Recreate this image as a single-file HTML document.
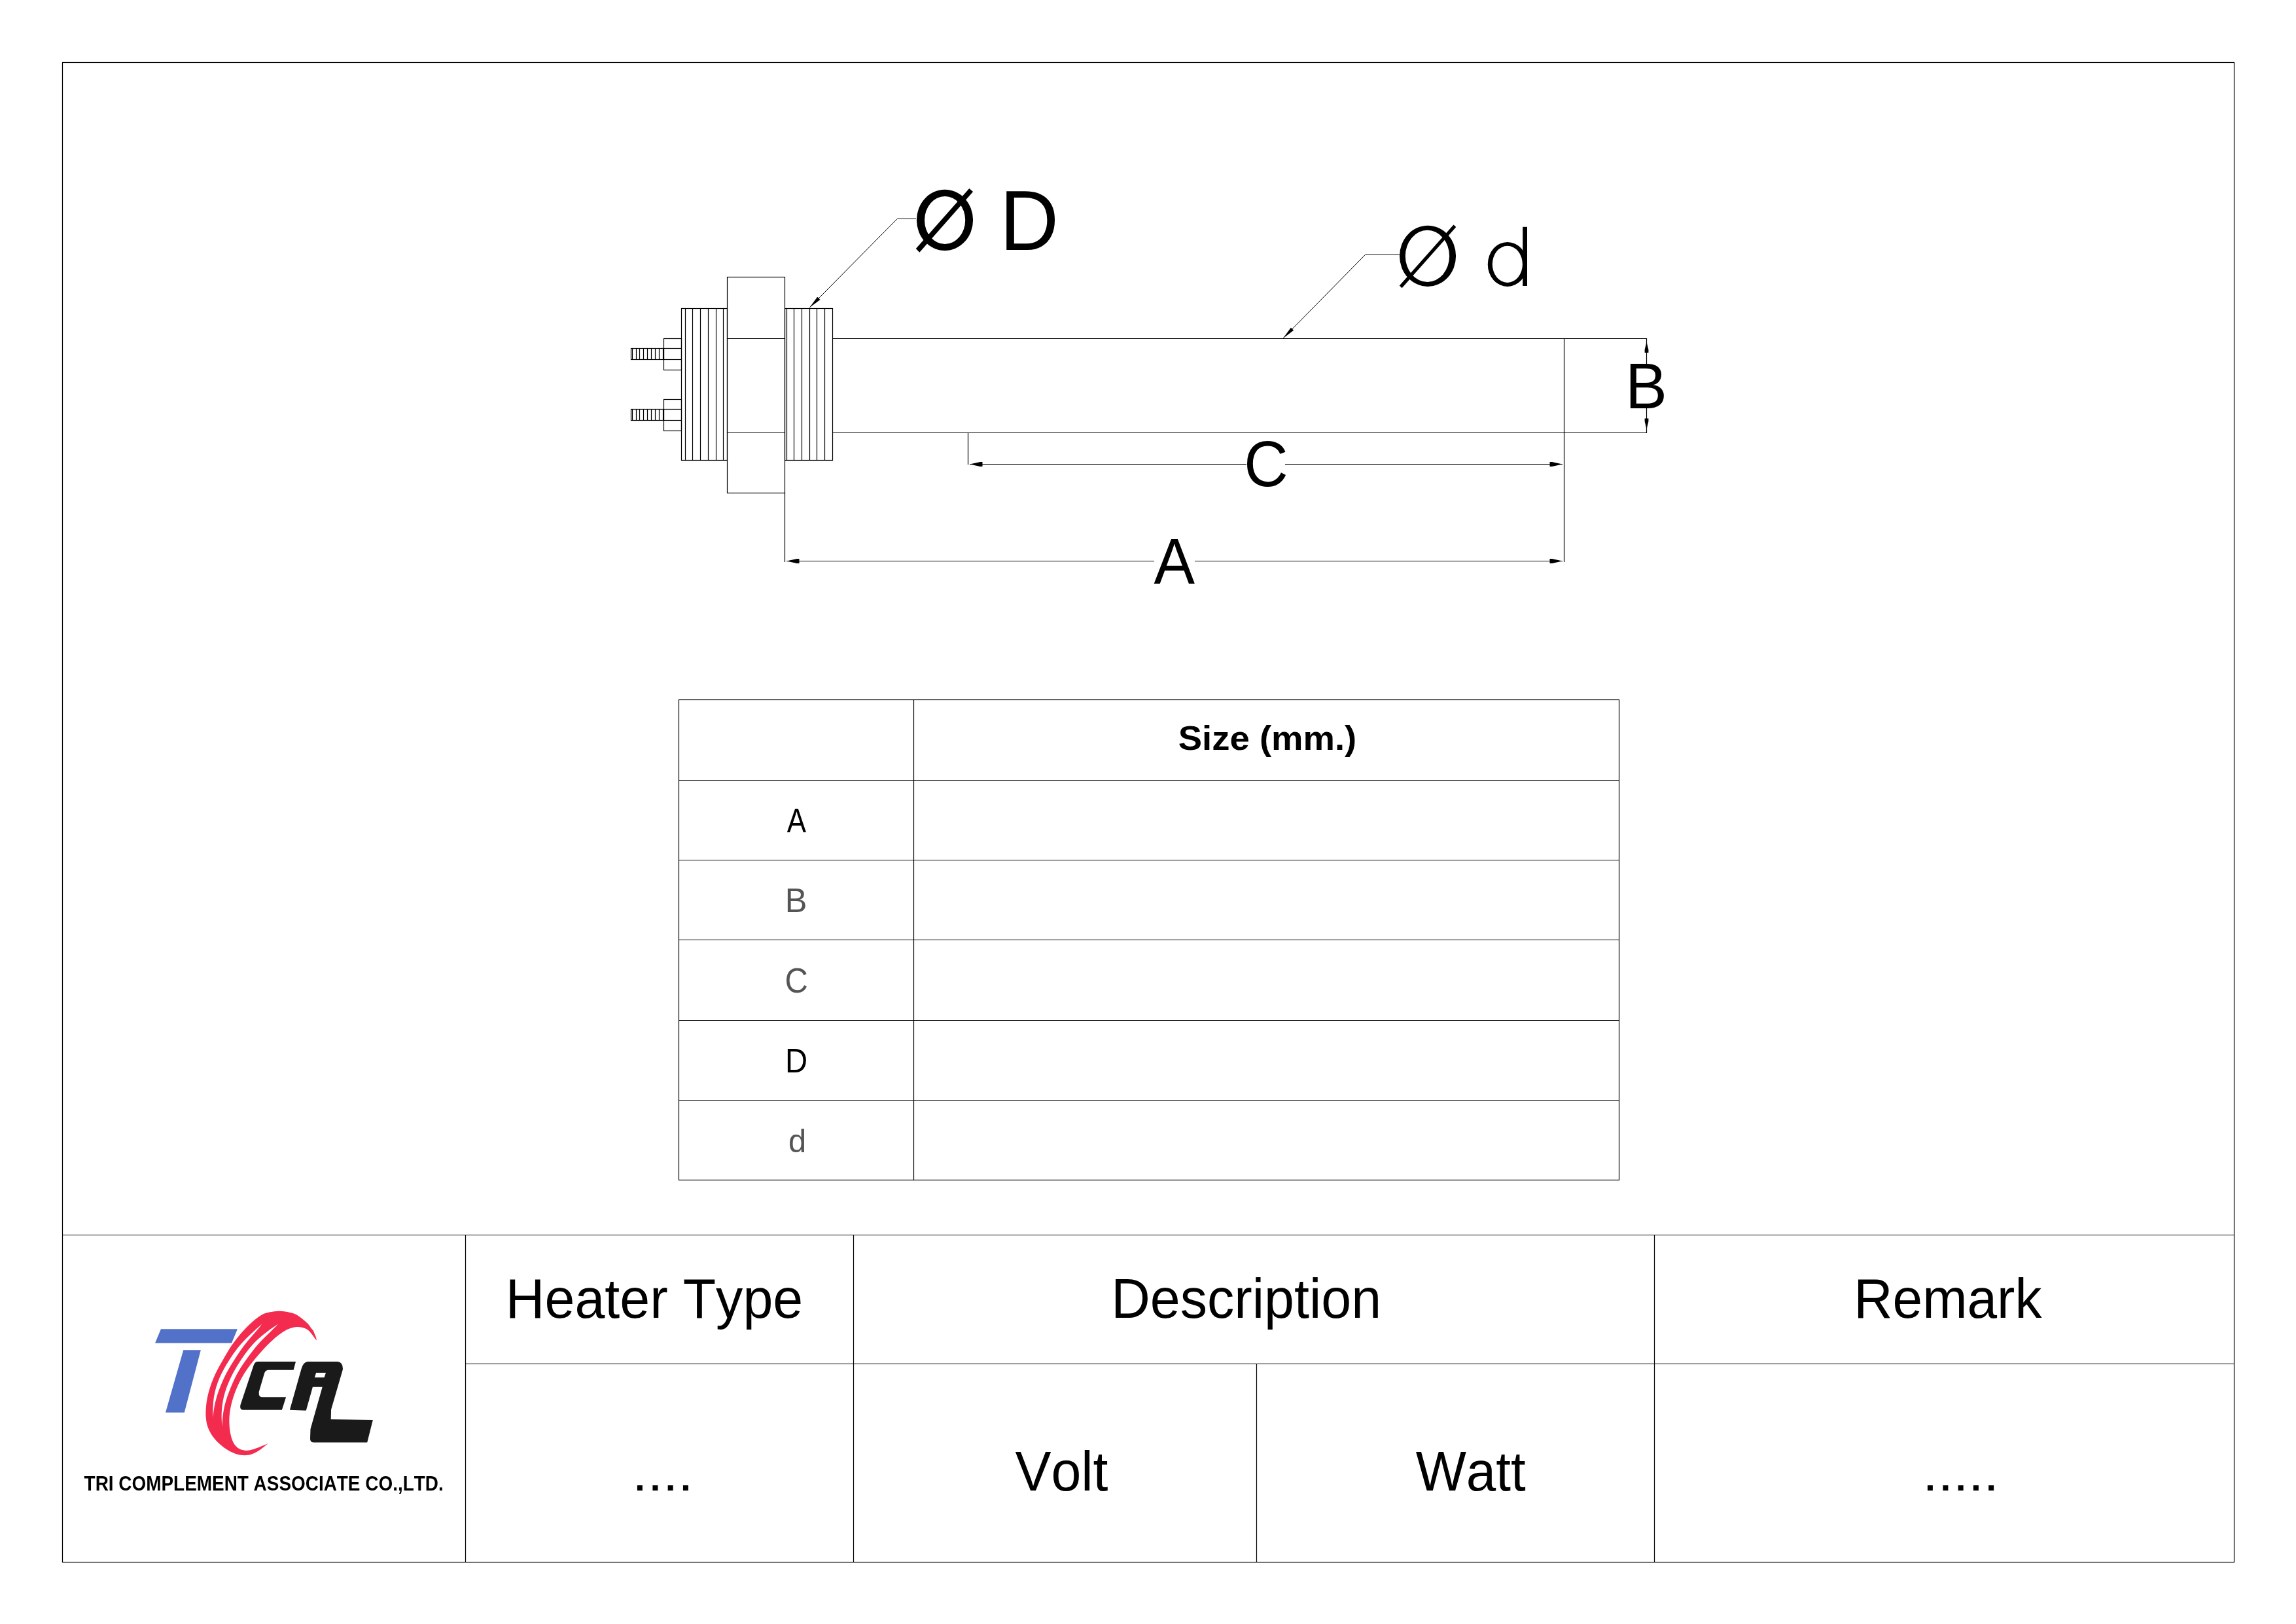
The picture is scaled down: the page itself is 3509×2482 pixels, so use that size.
<!DOCTYPE html>
<html><head><meta charset="utf-8"><style>
html,body{margin:0;padding:0;background:#fff;overflow:hidden;width:3509px;height:2482px;}
svg{display:block;}
text{font-family:"Liberation Sans",sans-serif;font-kerning:none;} svg{will-change:transform;}
</style></head><body>
<svg width="3509" height="2482" viewBox="0 0 3509 2482">
<rect width="3509" height="2482" fill="#fff"/>
<rect x="95.5" y="95.5" width="3319" height="2292" fill="none" stroke="#000" stroke-width="1.2"/>
<line x1="95" y1="1887.5" x2="3415" y2="1887.5" stroke="#000" stroke-width="1.2"/>
<line x1="711" y1="2084.5" x2="3415" y2="2084.5" stroke="#000" stroke-width="1.2"/>
<line x1="711.5" y1="1887" x2="711.5" y2="2388" stroke="#000" stroke-width="1.2"/>
<line x1="1304.5" y1="1887" x2="1304.5" y2="2388" stroke="#000" stroke-width="1.2"/>
<line x1="1920.5" y1="2084" x2="1920.5" y2="2388" stroke="#000" stroke-width="1.2"/>
<line x1="2528.5" y1="1887" x2="2528.5" y2="2388" stroke="#000" stroke-width="1.2"/>
<rect x="1037.5" y="1069.5" width="1437" height="734" fill="none" stroke="#000" stroke-width="1.2"/>
<line x1="1396.5" y1="1069" x2="1396.5" y2="1804" stroke="#000" stroke-width="1.2"/>
<line x1="1037" y1="1192.5" x2="2475" y2="1192.5" stroke="#000" stroke-width="1.2"/>
<line x1="1037" y1="1314.5" x2="2475" y2="1314.5" stroke="#000" stroke-width="1.2"/>
<line x1="1037" y1="1436.5" x2="2475" y2="1436.5" stroke="#000" stroke-width="1.2"/>
<line x1="1037" y1="1559.5" x2="2475" y2="1559.5" stroke="#000" stroke-width="1.2"/>
<line x1="1037" y1="1681.5" x2="2475" y2="1681.5" stroke="#000" stroke-width="1.2"/>
<text transform="translate(1800.73,1145.70) scale(1.0421,1)" font-size="52.30" font-weight="bold" fill="#000" xml:space="preserve">Size (mm.)</text>
<text transform="translate(1202.71,1272.00) scale(0.8387,1)" font-size="52.33" font-weight="normal" fill="#000" xml:space="preserve">A</text>
<text transform="translate(1199.85,1393.70) scale(0.9740,1)" font-size="51.89" font-weight="normal" fill="#555555" xml:space="preserve">B</text>
<text transform="translate(1199.51,1517.40) scale(0.9139,1)" font-size="53.56" font-weight="normal" fill="#555555" xml:space="preserve">C</text>
<text transform="translate(1200.12,1638.70) scale(0.9110,1)" font-size="51.89" font-weight="normal" fill="#000" xml:space="preserve">D</text>
<text transform="translate(1204.95,1761.30) scale(0.9765,1)" font-size="50.10" font-weight="normal" fill="#555555" xml:space="preserve">d</text>
<text transform="translate(772.83,2014.00) scale(0.9647,1)" font-size="85.61" font-weight="normal" fill="#000" xml:space="preserve">Heater Type</text>
<text transform="translate(1698.23,2013.80) scale(0.9659,1)" font-size="85.47" font-weight="normal" fill="#000" xml:space="preserve">Description</text>
<text transform="translate(2833.27,2014.00) scale(0.9535,1)" font-size="86.05" font-weight="normal" fill="#000" xml:space="preserve">Remark</text>
<text transform="translate(966.33,2278.00) scale(1.1226,1)" font-size="74.81" font-weight="normal" fill="#000" xml:space="preserve">....</text>
<text transform="translate(1551.44,2278.00) scale(0.9598,1)" font-size="85.90" font-weight="normal" fill="#000" xml:space="preserve">Volt</text>
<text transform="translate(2163.64,2277.70) scale(0.9555,1)" font-size="85.61" font-weight="normal" fill="#000" xml:space="preserve">Watt</text>
<text transform="translate(2938.34,2278.00) scale(1.1211,1)" font-size="74.81" font-weight="normal" fill="#000" xml:space="preserve">.....</text>
<text transform="translate(128.59,2278.20) scale(0.8938,1)" font-size="31.25" font-weight="bold" fill="#000" xml:space="preserve">TRI COMPLEMENT ASSOCIATE CO.,LTD.</text>
<rect x="964.5" y="532.5" width="50" height="17" fill="none" stroke="#000" stroke-width="1.2"/>
<line x1="966.5" y1="532" x2="966.5" y2="550" stroke="#000" stroke-width="1.2"/>
<line x1="972.5" y1="532" x2="972.5" y2="550" stroke="#000" stroke-width="1.2"/>
<line x1="977.5" y1="532" x2="977.5" y2="550" stroke="#000" stroke-width="1.2"/>
<line x1="983.5" y1="532" x2="983.5" y2="550" stroke="#000" stroke-width="1.2"/>
<line x1="989.5" y1="532" x2="989.5" y2="550" stroke="#000" stroke-width="1.2"/>
<line x1="995.5" y1="532" x2="995.5" y2="550" stroke="#000" stroke-width="1.2"/>
<line x1="1001.5" y1="532" x2="1001.5" y2="550" stroke="#000" stroke-width="1.2"/>
<line x1="1007.5" y1="532" x2="1007.5" y2="550" stroke="#000" stroke-width="1.2"/>
<line x1="1013.5" y1="532" x2="1013.5" y2="550" stroke="#000" stroke-width="1.2"/>
<rect x="1014.5" y="517.5" width="27" height="48" fill="none" stroke="#000" stroke-width="1.2"/>
<line x1="1014" y1="532.5" x2="1041" y2="532.5" stroke="#000" stroke-width="1.2"/>
<line x1="1014" y1="549.5" x2="1041" y2="549.5" stroke="#000" stroke-width="1.2"/>
<rect x="964.5" y="625.5" width="50" height="17" fill="none" stroke="#000" stroke-width="1.2"/>
<line x1="966.5" y1="625" x2="966.5" y2="643" stroke="#000" stroke-width="1.2"/>
<line x1="972.5" y1="625" x2="972.5" y2="643" stroke="#000" stroke-width="1.2"/>
<line x1="977.5" y1="625" x2="977.5" y2="643" stroke="#000" stroke-width="1.2"/>
<line x1="983.5" y1="625" x2="983.5" y2="643" stroke="#000" stroke-width="1.2"/>
<line x1="989.5" y1="625" x2="989.5" y2="643" stroke="#000" stroke-width="1.2"/>
<line x1="995.5" y1="625" x2="995.5" y2="643" stroke="#000" stroke-width="1.2"/>
<line x1="1001.5" y1="625" x2="1001.5" y2="643" stroke="#000" stroke-width="1.2"/>
<line x1="1007.5" y1="625" x2="1007.5" y2="643" stroke="#000" stroke-width="1.2"/>
<line x1="1013.5" y1="625" x2="1013.5" y2="643" stroke="#000" stroke-width="1.2"/>
<rect x="1014.5" y="610.5" width="27" height="48" fill="none" stroke="#000" stroke-width="1.2"/>
<line x1="1014" y1="625.5" x2="1041" y2="625.5" stroke="#000" stroke-width="1.2"/>
<line x1="1014" y1="642.5" x2="1041" y2="642.5" stroke="#000" stroke-width="1.2"/>
<rect x="1041.5" y="471.5" width="70" height="232" fill="none" stroke="#000" stroke-width="1.2"/>
<line x1="1047.5" y1="471" x2="1047.5" y2="704" stroke="#000" stroke-width="1.2"/>
<line x1="1058.5" y1="471" x2="1058.5" y2="704" stroke="#000" stroke-width="1.2"/>
<line x1="1070.5" y1="471" x2="1070.5" y2="704" stroke="#000" stroke-width="1.2"/>
<line x1="1082.5" y1="471" x2="1082.5" y2="704" stroke="#000" stroke-width="1.2"/>
<line x1="1094.5" y1="471" x2="1094.5" y2="704" stroke="#000" stroke-width="1.2"/>
<line x1="1105.5" y1="471" x2="1105.5" y2="704" stroke="#000" stroke-width="1.2"/>
<rect x="1111.5" y="423.5" width="88" height="330" fill="none" stroke="#000" stroke-width="1.2"/>
<line x1="1111" y1="517.5" x2="1200" y2="517.5" stroke="#000" stroke-width="1.2"/>
<line x1="1111" y1="661.5" x2="1200" y2="661.5" stroke="#000" stroke-width="1.2"/>
<rect x="1199.5" y="471.5" width="73" height="232" fill="none" stroke="#000" stroke-width="1.2"/>
<line x1="1202.5" y1="471" x2="1202.5" y2="704" stroke="#000" stroke-width="1.2"/>
<line x1="1213.5" y1="471" x2="1213.5" y2="704" stroke="#000" stroke-width="1.2"/>
<line x1="1225.5" y1="471" x2="1225.5" y2="704" stroke="#000" stroke-width="1.2"/>
<line x1="1237.5" y1="471" x2="1237.5" y2="704" stroke="#000" stroke-width="1.2"/>
<line x1="1248.5" y1="471" x2="1248.5" y2="704" stroke="#000" stroke-width="1.2"/>
<line x1="1260.5" y1="471" x2="1260.5" y2="704" stroke="#000" stroke-width="1.2"/>
<line x1="1272" y1="517.5" x2="2517" y2="517.5" stroke="#000" stroke-width="1.2"/>
<line x1="1272" y1="661.5" x2="2517" y2="661.5" stroke="#000" stroke-width="1.2"/>
<line x1="2390.5" y1="517" x2="2390.5" y2="859" stroke="#000" stroke-width="1.2"/>
<line x1="1199.5" y1="753" x2="1199.5" y2="859" stroke="#000" stroke-width="1.2"/>
<line x1="1479.5" y1="661" x2="1479.5" y2="710" stroke="#000" stroke-width="1.2"/>
<line x1="1202" y1="857.5" x2="1764" y2="857.5" stroke="#000" stroke-width="1.2"/>
<line x1="1826" y1="857.5" x2="2388" y2="857.5" stroke="#000" stroke-width="1.2"/>
<path d="M1202,857.5 L1218,854.1 L1221.5,854.1 L1221.5,860.9 L1218,860.9 Z" fill="#000"/>
<path d="M2388,857.5 L2372,854.1 L2368.5,854.1 L2368.5,860.9 L2372,860.9 Z" fill="#000"/>
<text transform="translate(1763.62,891.70) scale(0.9533,1)" font-size="98.40" font-weight="normal" fill="#000" xml:space="preserve">A</text>
<line x1="1482" y1="709.5" x2="1905" y2="709.5" stroke="#000" stroke-width="1.2"/>
<line x1="1964" y1="709.5" x2="2388" y2="709.5" stroke="#000" stroke-width="1.2"/>
<path d="M1482,709.5 L1498,706.1 L1501.5,706.1 L1501.5,712.9 L1498,712.9 Z" fill="#000"/>
<path d="M2388,709.5 L2372,706.1 L2368.5,706.1 L2368.5,712.9 L2372,712.9 Z" fill="#000"/>
<text transform="translate(1901.16,743.20) scale(0.9416,1)" font-size="99.11" font-weight="normal" fill="#000" xml:space="preserve">C</text>
<line x1="2516.5" y1="517" x2="2516.5" y2="556" stroke="#000" stroke-width="1.2"/>
<line x1="2516.5" y1="624" x2="2516.5" y2="662" stroke="#000" stroke-width="1.2"/>
<path d="M2516.5,522.5 L2513.6,534.5 L2513.6,539.0 L2519.4,539.0 L2519.4,534.5 Z" fill="#000"/>
<path d="M2516.5,656 L2513.6,644 L2513.6,639.5 L2519.4,639.5 L2519.4,644 Z" fill="#000"/>
<text transform="translate(2484.04,623.80) scale(0.9752,1)" font-size="98.26" font-weight="normal" fill="#000" xml:space="preserve">B</text>
<polyline points="1237.3,470 1371.2,334.5 1400,334.5" fill="none" stroke="#000" stroke-width="1.0"/>
<path d="M1237.3,470 L1253.49,457.88 L1249.22,453.67 Z" fill="#000"/>
<polyline points="1961,517 2086.3,389.5 2139,389.5" fill="none" stroke="#000" stroke-width="1.0"/>
<path d="M1961,517 L1977.16,504.84 L1972.88,500.63 Z" fill="#000"/>
<path fill-rule="evenodd" d="M1400.9,336.35 A43.1,46.55 0 1 0 1487.1,336.35 A43.1,46.55 0 1 0 1400.9,336.35 Z M1413.0,336.5 A31.1,36.5 0 1 0 1475.1999999999998,336.5 A31.1,36.5 0 1 0 1413.0,336.5 Z" fill="#000"/>
<path d="M1399.8,380 L1405.3,385.8 L1487.1,293.1 L1481.3,287.9 Z" fill="#000"/>
<text transform="translate(1527.98,381.60) scale(0.9600,1)" font-size="129.80" font-weight="normal" fill="#000" xml:space="preserve">D</text>
<path fill-rule="evenodd" d="M2139.0,391.35 A43.05,46.55 0 1 0 2225.1000000000004,391.35 A43.05,46.55 0 1 0 2139.0,391.35 Z M2147.7999999999997,391.45 A33.65,39.65 0 1 0 2215.1,391.45 A33.65,39.65 0 1 0 2147.7999999999997,391.45 Z" fill="#000"/>
<path d="M2138.8,436.6 L2142.6,440.2 L2225.3,347 L2221.5,343.6 Z" fill="#000"/>
<path fill-rule="evenodd" d="M2273.75,403.9 A30.1,34 0 1 0 2333.95,403.9 A30.1,34 0 1 0 2273.75,403.9 Z M2280.7999999999997,403.85 A23.05,27.95 0 1 0 2326.9,403.85 A23.05,27.95 0 1 0 2280.7999999999997,403.85 Z" fill="#000"/>
<path d="M2327.2,346.8 L2334,346.8 L2334,437 L2327.2,437 Z" fill="#000"/>
<path fill="#5271C9" d="M245.9,2031.3 L362.9,2031.3 L354,2052.8 L237,2052.8 Z M280.3,2063.3 L306.9,2063.3 L281.8,2158.7 L253,2158.7 Z"/>
<path fill="#F22B4F" d="M483.9,2048.5 C483.72,2047.68 483.33,2045.28 482.80,2043.60 C482.27,2041.92 481.40,2040.08 480.70,2038.40 C480.00,2036.72 479.43,2034.90 478.60,2033.50 C477.77,2032.10 477.22,2031.92 475.70,2030.00 C474.18,2028.08 473.07,2025.33 469.50,2022.00 C465.93,2018.67 458.55,2012.63 454.30,2010.00 C450.05,2007.37 448.55,2007.23 444.00,2006.20 C439.45,2005.17 432.85,2003.80 427.00,2003.80 C421.15,2003.80 413.53,2005.17 408.90,2006.20 C404.27,2007.23 403.02,2007.70 399.20,2010.00 C395.38,2012.30 389.95,2016.67 386.00,2020.00 C382.05,2023.33 378.77,2026.67 375.52,2030.00 C372.27,2033.33 369.34,2036.67 366.52,2040.00 C363.70,2043.33 361.11,2046.67 358.62,2050.00 C356.13,2053.33 353.78,2056.67 351.60,2060.00 C349.42,2063.33 347.56,2066.54 345.52,2070.00 C343.48,2073.46 341.52,2076.96 339.38,2080.75 C337.24,2084.54 334.85,2088.58 332.70,2092.75 C330.55,2096.92 328.43,2101.21 326.50,2105.75 C324.57,2110.29 322.72,2115.12 321.15,2120.00 C319.58,2124.88 318.14,2130.00 317.10,2135.00 C316.06,2140.00 315.31,2145.00 314.90,2150.00 C314.49,2155.00 314.23,2160.00 314.62,2165.00 C315.01,2170.00 315.52,2175.00 317.23,2180.00 C318.94,2185.00 321.50,2190.23 324.88,2195.00 C328.26,2199.77 333.13,2204.77 337.52,2208.62 C341.91,2212.47 346.92,2215.75 351.20,2218.12 C355.48,2220.49 359.40,2221.82 363.17,2222.82 C366.94,2223.83 370.35,2224.15 373.80,2224.15 C377.25,2224.15 380.29,2223.99 383.90,2222.82 C387.51,2221.65 391.10,2219.92 395.45,2217.12 C399.80,2214.32 407.57,2207.85 410.00,2206.00 L410,2206 C408.02,2206.82 402.11,2209.36 398.10,2210.90 C394.09,2212.44 389.48,2214.22 385.93,2215.22 C382.38,2216.22 379.55,2216.80 376.83,2216.90 C374.11,2217.01 372.01,2216.68 369.60,2215.85 C367.19,2215.02 364.55,2213.79 362.38,2211.90 C360.21,2210.01 358.17,2207.53 356.57,2204.50 C354.97,2201.47 353.78,2197.83 352.80,2193.75 C351.82,2189.67 351.07,2184.79 350.70,2180.00 C350.33,2175.21 350.24,2170.00 350.57,2165.00 C350.90,2160.00 351.67,2155.00 352.68,2150.00 C353.69,2145.00 355.03,2140.00 356.65,2135.00 C358.27,2130.00 360.25,2124.88 362.38,2120.00 C364.51,2115.12 366.90,2110.29 369.43,2105.75 C371.96,2101.21 374.69,2096.92 377.55,2092.75 C380.42,2088.58 383.61,2084.54 386.62,2080.75 C389.63,2076.96 392.61,2073.46 395.60,2070.00 C398.59,2066.54 401.39,2063.33 404.55,2060.00 C407.71,2056.67 410.88,2053.38 414.55,2050.00 C418.23,2046.62 422.28,2042.88 426.60,2039.75 C430.93,2036.62 435.94,2033.19 440.50,2031.22 C445.06,2029.25 450.00,2028.26 453.98,2027.95 C457.96,2027.64 461.55,2028.54 464.40,2029.38 C467.25,2030.22 469.15,2031.49 471.10,2033.00 C473.05,2034.51 474.54,2036.57 476.10,2038.47 C477.66,2040.37 479.18,2042.75 480.48,2044.42 C481.78,2046.09 483.33,2047.82 483.90,2048.50 Z"/>
<path fill="#fff" d="M400.6,2023.2 C399.18,2024.47 395.19,2028.00 392.10,2030.80 C389.01,2033.60 385.39,2036.80 382.05,2040.00 C378.71,2043.20 375.15,2046.67 372.05,2050.00 C368.95,2053.33 366.10,2056.67 363.43,2060.00 C360.76,2063.33 358.42,2066.54 356.02,2070.00 C353.62,2073.46 351.39,2076.96 349.05,2080.75 C346.71,2084.54 344.25,2088.58 342.00,2092.75 C339.75,2096.92 337.51,2101.21 335.57,2105.75 C333.63,2110.29 331.82,2115.12 330.38,2120.00 C328.94,2124.88 327.73,2129.92 326.92,2135.00 C326.11,2140.08 325.75,2145.17 325.50,2150.50 C325.25,2155.83 325.42,2164.25 325.40,2167.00 L325.4,2167 C325.75,2164.25 326.54,2155.83 327.50,2150.50 C328.46,2145.17 329.67,2140.08 331.15,2135.00 C332.63,2129.92 334.50,2124.88 336.40,2120.00 C338.30,2115.12 340.38,2110.29 342.53,2105.75 C344.68,2101.21 346.98,2096.92 349.33,2092.75 C351.68,2088.58 354.23,2084.54 356.60,2080.75 C358.97,2076.96 361.23,2073.46 363.53,2070.00 C365.83,2066.54 367.97,2063.33 370.40,2060.00 C372.83,2056.67 375.40,2053.33 378.12,2050.00 C380.84,2046.67 383.97,2043.20 386.73,2040.00 C389.49,2036.80 392.36,2033.60 394.67,2030.80 C396.98,2028.00 399.61,2024.47 400.60,2023.20 Z"/>
<path fill="#fff" d="M424.9,2023.4 C423.12,2024.64 418.00,2028.08 414.20,2030.85 C410.40,2033.62 405.97,2036.81 402.08,2040.00 C398.19,2043.19 394.24,2046.67 390.85,2050.00 C387.46,2053.33 384.53,2056.67 381.73,2060.00 C378.93,2063.33 376.56,2066.54 374.07,2070.00 C371.58,2073.46 369.21,2076.96 366.77,2080.75 C364.32,2084.54 361.76,2088.58 359.40,2092.75 C357.04,2096.92 354.75,2101.21 352.60,2105.75 C350.45,2110.29 348.29,2115.12 346.52,2120.00 C344.75,2124.88 343.14,2130.00 341.95,2135.00 C340.76,2140.00 339.95,2144.98 339.40,2150.00 C338.84,2155.02 338.60,2160.04 338.62,2165.12 C338.64,2170.20 339.35,2177.94 339.50,2180.50 L339.5,2180.5 C339.66,2177.94 339.88,2170.20 340.45,2165.12 C341.02,2160.04 341.77,2155.02 342.90,2150.00 C344.02,2144.98 345.53,2140.00 347.20,2135.00 C348.87,2130.00 350.88,2124.88 352.90,2120.00 C354.92,2115.12 357.05,2110.29 359.30,2105.75 C361.55,2101.21 363.88,2096.92 366.38,2092.75 C368.88,2088.58 371.68,2084.54 374.30,2080.75 C376.92,2076.96 379.51,2073.46 382.10,2070.00 C384.69,2066.54 387.09,2063.33 389.82,2060.00 C392.55,2056.67 395.39,2053.33 398.50,2050.00 C401.61,2046.67 405.25,2043.19 408.50,2040.00 C411.75,2036.81 415.27,2033.62 418.00,2030.85 C420.73,2028.08 423.75,2024.64 424.90,2023.40 Z"/>
<path fill="#1A1A1A" fill-rule="evenodd" d="M393.5,2081 L452,2081 L448.6,2093.8 L410,2093.8 Q405.5,2094 404,2099 L395.8,2127 Q395,2135.2 400,2135.2 L437.1,2135.2 L430.9,2154.8 L371,2154.8 Q366,2154.5 367.5,2147 L387.5,2087 Q389.5,2081 393.5,2081 Z M470.2,2081 L516,2081 Q524.5,2082 523.9,2093 L506.1,2154.3 L505.7,2169.2 L569.9,2170.1 L561.2,2204.6 L479,2204.6 Q474,2204 474,2199 L474.5,2184 L492.7,2119.8 L477.9,2119.8 L467.8,2155.8 L442.9,2154.8 L460.6,2092 Q463.5,2081.5 470.2,2081 Z M483.1,2098.1 L498,2098.1 L495.6,2105.3 L480.9,2105.3 Z"/>
</svg>
</body></html>
